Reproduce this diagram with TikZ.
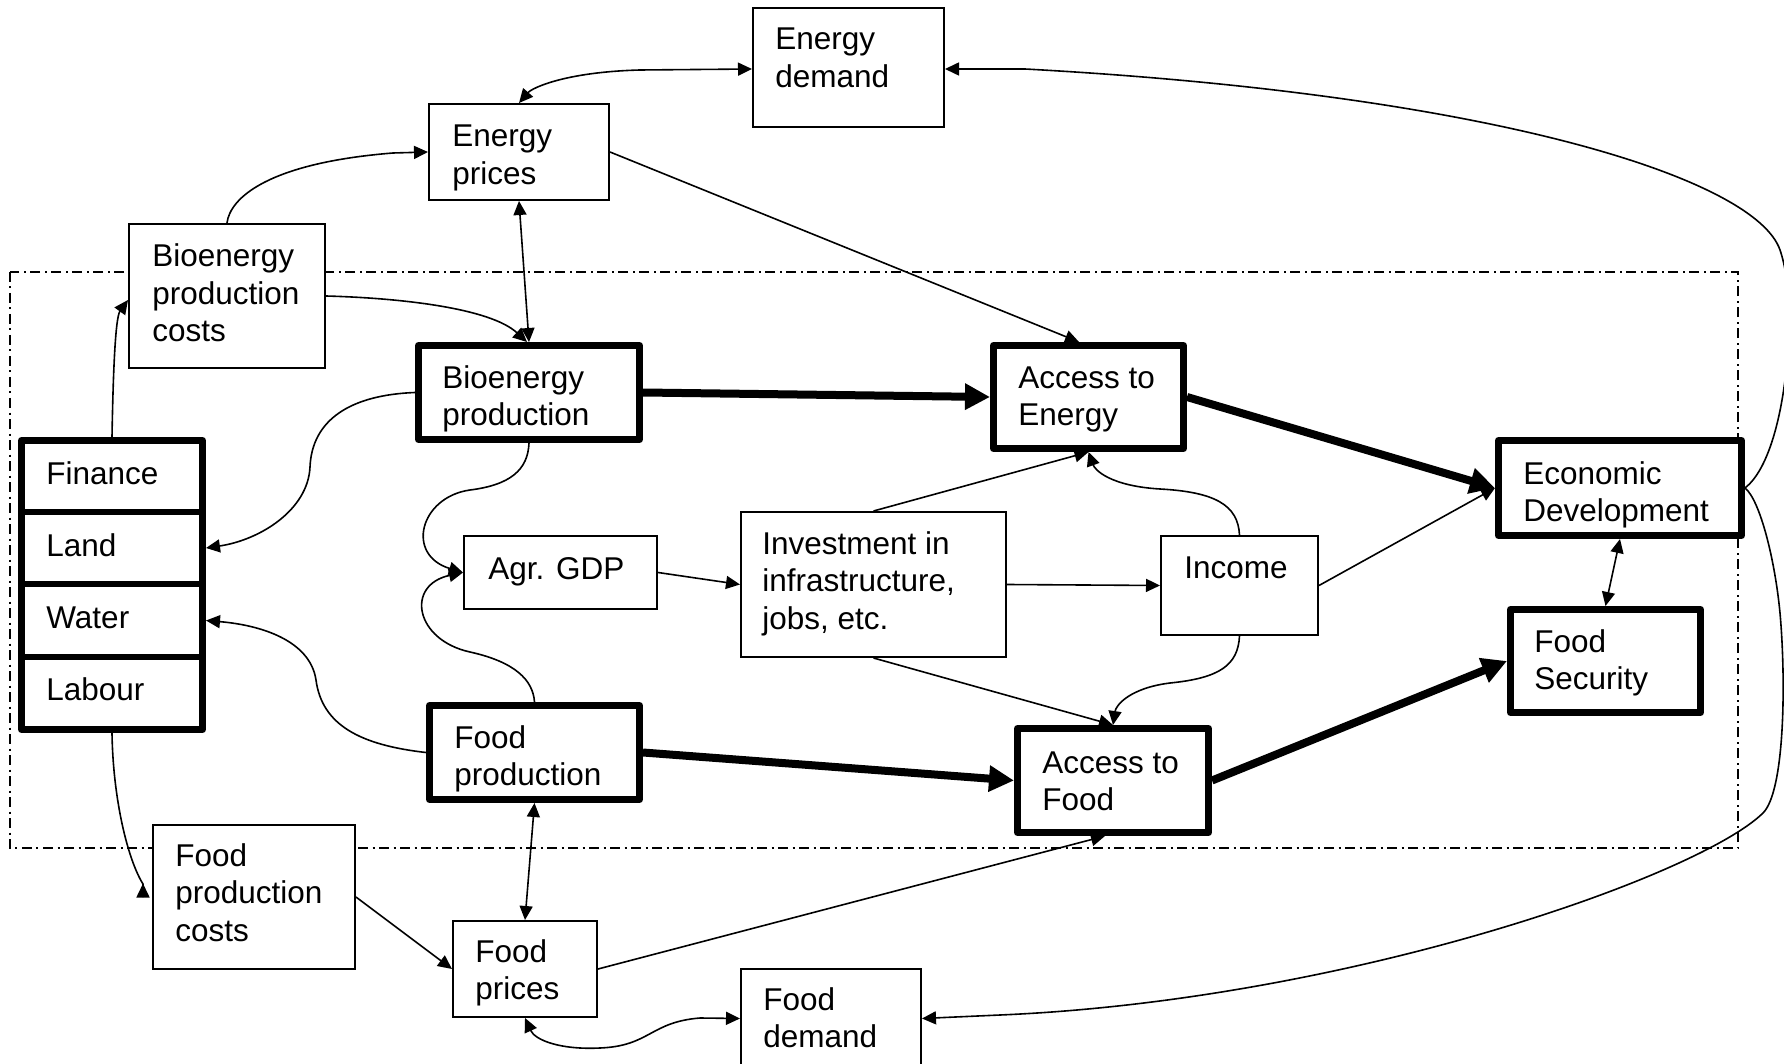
\documentclass[tikz,border=0pt]{standalone}
\usepackage{fontspec}
\setmainfont{Liberation Sans}
\usetikzlibrary{arrows.meta, fit}

% left-aligned multi-line box text; baseline of the first row is the reference point
\newcommand\boxlines[1]{\begin{tabular}[t]{@{}l@{}}#1\end{tabular}}

\begin{document}
\begin{tikzpicture}[x=0.5pt, y=-0.5pt,
  thinbox/.style={draw, line width=1pt, fill=white, inner sep=0pt},
  thickbox/.style={draw, line width=3.4pt, line join=round, fill=white, inner sep=0pt},
  lbl/.style={anchor=base west, inner sep=0pt, font=\fontsize{15.75}{18.75}\selectfont},
  link/.style={line width=0.8pt, -{Triangle[length=7pt,width=6.5pt]}},
  link2/.style={line width=0.8pt, {Triangle[length=7pt,width=6.5pt]}-{Triangle[length=7pt,width=6.5pt]}},
  main/.style={line width=4pt, -{Triangle[length=12.5pt,width=12.5pt]}},
  region/.style={line width=0.9pt, dash pattern=on 5pt off 2.25pt on 1pt off 2.25pt},
]
\useasboundingbox (0,0) rectangle (1784,1064);
\clip (0,0) rectangle (1784,1064);
\fill[white] (0,0) rectangle (1784,1064);

% system boundary
\draw[region] (10,272) rectangle (1738,848);

% thin boxes
\node[thinbox, fit={(753,8)(944,127)}] (edem) {};
\node[thinbox, fit={(429,104)(609,200)}] (eprice) {};
\node[thinbox, fit={(129,224)(325,368)}] (bpc) {};
\node[thinbox, fit={(464,536)(657,609)}] (agr) {};
\node[thinbox, fit={(741,512)(1006,657)}] (invest) {};
\node[thinbox, fit={(1161,536)(1318,635)}] (income) {};
\node[thinbox, fit={(153,825)(355,969)}] (fpc) {};
\node[thinbox, fit={(453,921)(597,1017)}] (fprice) {};
\node[thinbox, fit={(741,969)(921,1068)}] (fdem) {};

% thick boxes
\node[thickbox, fit={(418.4,345.4)(639.6,439.6)}] (bprod) {};
\node[thickbox, fit={(993.4,345.4)(1183.6,448.6)}] (aen) {};
\node[thickbox, fit={(1498.4,440.4)(1741.6,535.6)}] (econ) {};
\node[thickbox, fit={(1510.4,609.4)(1700.6,712.6)}] (fsec) {};
\node[thickbox, fit={(1017.4,728.4)(1208.6,832.6)}] (afood) {};
\node[thickbox, fit={(429.4,705.4)(639.6,799.6)}] (fprod) {};

% resource stack
\node[thickbox, fit={(21.4,440.4)(202.6,512)}] (fin) {};
\node[thickbox, fit={(21.4,512)(202.6,584)}] (land) {};
\node[thickbox, fit={(21.4,584)(202.6,657)}] (water) {};
\node[thickbox, fit={(21.4,657)(202.6,729.6)}] (lab) {};

% texts
\node[lbl] (edem-t) at (775,50) {\boxlines{Energy\\demand}};
\node[lbl] (eprice-t) at (452,147) {\boxlines{Energy\\prices}};
\node[lbl] (bpc-t) at (152,267) {\boxlines{Bioenergy\\production\\costs}};
\node[lbl] (bprod-t) at (442,388) {\boxlines{Bioenergy\\production}};
\node[lbl] (aen-t) at (1018,388) {\boxlines{Access to\\Energy}};
\node[lbl] (econ-t) at (1523,484) {\boxlines{Economic\\Development}};
\node[lbl] (fsec-t) at (1534,652) {\boxlines{Food\\Security}};
\node[lbl] (income-t) at (1184,578) {Income};
\node[lbl] (invest-t) at (762,554) {\boxlines{Investment in\\infrastructure,\\jobs, etc.}};
\node[lbl] (agr-t) at (488,579) {Agr. GDP};
\node[lbl] (fin-t) at (46,484) {Finance};
\node[lbl] (land-t) at (46,556) {Land};
\node[lbl] (water-t) at (46,628) {Water};
\node[lbl] (lab-t) at (46,700) {Labour};
\node[lbl] (fprod-t) at (454,748) {\boxlines{Food\\production}};
\node[lbl] (afood-t) at (1042,773) {\boxlines{Access to\\Food}};
\node[lbl] (fpc-t) at (175,866) {\boxlines{Food\\production\\costs}};
\node[lbl] (fprice-t) at (475,962) {\boxlines{Food\\prices}};
\node[lbl] (fdem-t) at (763,1010) {\boxlines{Food\\demand}};

% energy side links
\draw[link2] (eprice.north) .. controls (532,88) and (565,72) .. (640,70) -- ([yshift=-0.75pt]edem.west);
\draw[link] (bpc.north) .. controls (230,198) and (268,163) .. (393,153) -- (eprice.west);
\draw[link2] (eprice.south) -- (bprod.north);
\draw[link] (eprice.east) -- ([xshift=-4.75pt]aen.north);
\draw[link] (bpc.east) .. controls (400,298) and (490,308) .. ([xshift=-1pt]bprod.north);
\draw[link] (fin.north) .. controls (113,380) and (115,318) .. ([yshift=-2pt]bpc.west);

% resource use
\draw[link] (bprod.west) .. controls (350,395) and (312,420) .. (310,467) .. controls (308,510) and (260,540) .. (land.east);
\draw[link] (fprod.west) .. controls (360,745) and (322,725) .. (316,680) .. controls (310,640) and (260,625) .. (water.east);
\draw[link] (lab.south) .. controls (113,800) and (128,860) .. ([xshift=-4.5pt,yshift=6.5pt]fpc.west) -- ++(0,-0.5);

% agricultural economy
\draw[link] (bprod.south) .. controls (528,470) and (510,485) .. (470,490) .. controls (420,497) and (405,555) .. (agr.west);
\draw[link] (fprod.north) .. controls (533,680) and (515,662) .. (470,652) .. controls (415,640) and (405,585) .. (agr.west);
\draw[link] (agr.east) -- (invest.west);
\draw[link] (invest.east) -- (income.west);
\draw[link] (invest.north) -- (aen.south);
\draw[link] (income.north) .. controls (1238,505) and (1215,492) .. (1160,489) .. controls (1110,486) and (1095,470) .. (aen.south);
\draw[link] (invest.south) -- (afood.north);
\draw[link] (income.south) .. controls (1238,665) and (1220,678) .. (1170,683) .. controls (1130,688) and (1116,705) .. (afood.north);
\draw[link] (income.east) -- (econ.west);
\draw[link2] (econ.south) -- (fsec.north);

% food side links
\draw[link] (fpc.east) -- (fprice.west);
\draw[link2] (fprod.south) -- (fprice.north);
\draw[link] (fprice.east) -- ([xshift=-4pt]afood.south);
\draw[link2] (fprice.south) .. controls (535,1040) and (560,1050) .. (600,1048) .. controls (650,1046) and (650,1022) .. (700,1018) -- (fdem.west);

% main chain
\draw[main] (bprod.east) -- (aen.west);
\draw[main] (aen.east) -- (econ.west);
\draw[main] (fprod.east) -- (afood.west);
\draw[main] (afood.east) -- (fsec.west);

% feedback to demand
\draw[link] (econ.east) .. controls (1768,470) and (1780,420) .. (1785,380) .. controls (1790,340) and (1792,285) .. (1780,250) .. controls (1756,180) and (1500,95) .. (1025,69) -- ([yshift=-0.75pt]edem.east);
\draw[link] (econ.east) .. controls (1760,500) and (1775,560) .. (1780,613) .. controls (1786,680) and (1785,791) .. (1763,813) .. controls (1700,875) and (1350,1000) .. (1000,1015) -- (fdem.east);
\end{tikzpicture}
\end{document}
